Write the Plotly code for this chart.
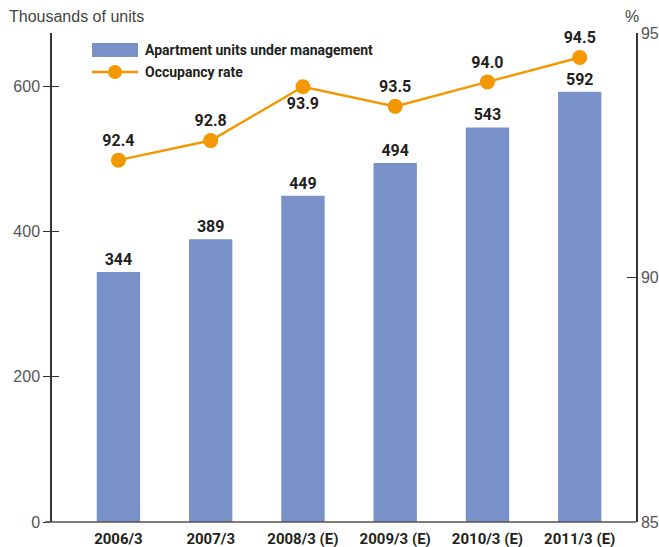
import plotly.graph_objects as go

categories = ["2006/3", "2007/3", "2008/3 (E)", "2009/3 (E)", "2010/3 (E)", "2011/3 (E)"]
units = [344, 389, 449, 494, 543, 592]
occupancy = [92.4, 92.8, 93.9, 93.5, 94.0, 94.5]
occ_label_pos = ["top center", "top center", "bottom center", "top center", "top center", "top center"]
left_ticks = [0, 200, 400, 600]
right_ticks = [85, 90, 95]

W, H = 659, 547
L, R, T, B = 52, 636, 33, 522  # plot area in pixels
BLUE = "#7891c9"
ORANGE = "#f39800"
FONT = "Roboto, sans-serif"
AXF = "Liberation Sans, Arial, sans-serif"
TXT = "#231f20"

xs = list(range(len(categories)))

fig = go.Figure()
fig.add_trace(go.Bar(
    x=xs, y=units, width=0.47, marker=dict(color=BLUE, line=dict(width=0)),
    text=[str(v) for v in units], textposition="outside", cliponaxis=False,
    textfont=dict(family=FONT, size=16, color=TXT, weight="bold"),
    showlegend=False, yaxis="y"))
fig.add_trace(go.Scatter(
    x=xs, y=occupancy, mode="lines+markers+text",
    line=dict(color=ORANGE, width=2.5),
    marker=dict(color=ORANGE, size=15),
    text=[f"{v:.1f}" for v in occupancy], textposition=occ_label_pos,
    textfont=dict(family=FONT, size=16, color=TXT, weight="bold"),
    cliponaxis=False, showlegend=False, yaxis="y2"))
fig.add_trace(go.Scatter(x=[None], y=[None], yaxis="y3", showlegend=False, hoverinfo="skip"))

def px(x):
    return (x - L) / (R - L)

def py(y):
    return (B - y) / (B - T)

shapes = [
    dict(type="rect", xref="paper", yref="paper", x0=px(92), x1=px(138), y0=py(57), y1=py(43),
         fillcolor=BLUE, line=dict(width=0)),
    dict(type="line", xref="paper", yref="paper", x0=px(92), x1=px(138), y0=py(72), y1=py(72),
         line=dict(color=ORANGE, width=2.5)),
    dict(type="circle", xref="paper", yref="paper", x0=px(108), x1=px(122), y0=py(79), y1=py(65),
         fillcolor=ORANGE, line=dict(width=0)),
    dict(type="line", xref="paper", yref="paper", x0=px(45), x1=1, y0=0, y1=0,
         line=dict(color="#5a4f48", width=1.5)),
]

annotations = [
    dict(text="Apartment units under management", xref="paper", yref="paper", x=px(143), y=py(50),
         xanchor="left", yanchor="middle", showarrow=False,
         font=dict(family=FONT, size=14, color=TXT, weight="bold")),
    dict(text="Occupancy rate", xref="paper", yref="paper", x=px(143), y=py(72),
         xanchor="left", yanchor="middle", showarrow=False,
         font=dict(family=FONT, size=14, color=TXT, weight="bold")),
    dict(text="Thousands of units", xref="paper", yref="paper", x=px(7), y=py(17),
         xanchor="left", yanchor="middle", showarrow=False,
         font=dict(family=AXF, size=16, color="#444444")),
    dict(text="%", xref="paper", yref="paper", x=px(632), y=py(17),
         xanchor="center", yanchor="middle", showarrow=False,
         font=dict(family=AXF, size=16, color="#444444")),
]

fig.update_layout(
    width=W, height=H,
    margin=dict(l=L, r=W - R, t=T, b=H - B, pad=0, autoexpand=False),
    paper_bgcolor="white", plot_bgcolor="white",
    xaxis=dict(range=[-0.72, 5.61], tickvals=xs, ticktext=categories, automargin=False,
               showgrid=False, zeroline=False, showline=False, ticks="outside", ticklen=3,
               tickcolor="rgba(0,0,0,0)",
               tickfont=dict(family=FONT, size=15, color=TXT, weight="bold")),
    yaxis=dict(range=[0, 673], tickvals=left_ticks, showgrid=False, zeroline=False, automargin=False,
               showline=True, linecolor="#333333", linewidth=1.5,
               ticks="outside", ticklen=7, tickcolor="#333333", tickwidth=1,
               tickfont=dict(family=AXF, size=16, color="#555555")),
    yaxis3=dict(range=[0, 673], tickvals=left_ticks, overlaying="y", side="left", automargin=False,
                showgrid=False, zeroline=False, showline=False, showticklabels=False,
                ticks="inside", ticklen=7, tickcolor="#333333", tickwidth=1),
    yaxis2=dict(range=[85, 95], tickvals=right_ticks, overlaying="y", side="right", automargin=False,
                showgrid=False, zeroline=False, showline=True, linecolor="#333333", linewidth=1.5,
                ticks="inside", ticklen=9, tickcolor="#333333", tickwidth=1,
                tickfont=dict(family=AXF, size=16, color="#555555")),
    shapes=shapes, annotations=annotations,
)

fig.write_html("out.html", config={"displayModeBar": False},
               post_script="document.body.style.margin='0';document.body.style.overflow='hidden';")
